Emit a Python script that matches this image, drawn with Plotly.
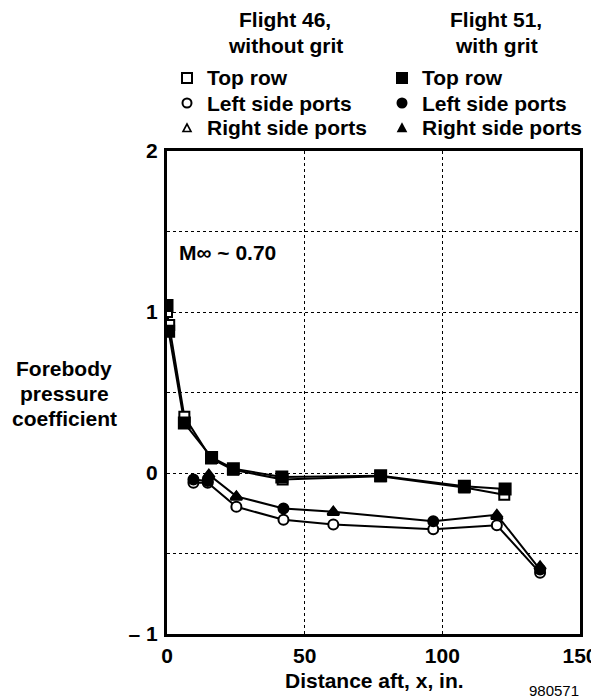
import plotly.graph_objects as go

# ---- data ----
f46_top_x = [0.0, 0.8, 6.3, 16.0, 24.0, 42.0, 77.5, 108.0, 122.5]
f46_top_y = [1.00, 0.92, 0.35, 0.09, 0.02, -0.04, -0.02, -0.09, -0.135]
f51_top_x = [0.0, 0.6, 6.3, 16.2, 24.1, 41.7, 77.6, 108.0, 122.8]
f51_top_y = [1.04, 0.88, 0.31, 0.097, 0.027, -0.025, -0.017, -0.083, -0.10]

f46_left_x = [9.6, 14.8, 25.2, 42.3, 60.4, 96.7, 119.8, 135.5]
f46_left_y = [-0.06, -0.06, -0.21, -0.29, -0.32, -0.35, -0.325, -0.62]
f46_right_x = [15.0, 25.2, 60.4, 119.8]
f46_right_y = [-0.02, -0.15, -0.245, -0.27]

f51_left_x = [9.6, 14.8, 42.3, 96.7, 135.5]
f51_left_y = [-0.04, -0.05, -0.22, -0.30, -0.60]
f51_right_x = [15.2, 25.2, 60.4, 119.8, 135.5]
f51_right_y = [-0.01, -0.145, -0.24, -0.26, -0.58]

x_ticks = [0, 50, 100, 150]
y_ticks = [-1, 0, 1, 2]
y_tick_text = ["\u2013 1", "0", "1", "2"]

legend_groups = [
    ("Flight 46,", "without grit", False),
    ("Flight 51,", "with grit", True),
]
legend_labels = ["Top row", "Left side ports", "Right side ports"]

FONT = "Liberation Sans, Arial, sans-serif"
BLACK = "black"
FS = 21

# ---- geometry (page has an 8px body margin) ----
W, H = 591, 690
ML, MR, MT, MB = 159, 19, 143, 64
OFF = 8
PW, PH = W - ML - MR, H - MT - MB


def px2x(p):
    return (p - OFF - ML) / PW


def px2y(p):
    return (OFF + MT + PH - p) / PH


fig = go.Figure()


def line_trace(xs, ys):
    return go.Scatter(x=xs, y=ys, mode="lines", line=dict(color=BLACK, width=2),
                      showlegend=False, hoverinfo="skip")


fig.add_trace(line_trace(f46_top_x, f46_top_y))
fig.add_trace(line_trace(f51_top_x, f51_top_y))
fig.add_trace(line_trace(f46_left_x, f46_left_y))
merged51 = sorted(zip(f51_left_x + f51_right_x, f51_left_y + f51_right_y))
fig.add_trace(line_trace([p[0] for p in merged51], [p[1] for p in merged51]))


def marker_trace(xs, ys, name, symbol, filled, size):
    return go.Scatter(
        x=xs, y=ys, mode="markers", name=name, showlegend=False,
        marker=dict(symbol=symbol, size=size,
                    color=BLACK if filled else "white",
                    line=dict(color=BLACK, width=2)),
    )


fig.add_trace(marker_trace(f46_top_x, f46_top_y, "Flight 46 top row", "square", False, 10))
fig.add_trace(marker_trace(f46_left_x, f46_left_y, "Flight 46 left side ports", "circle", False, 10))
fig.add_trace(marker_trace(f46_right_x, f46_right_y, "Flight 46 right side ports", "triangle-up", False, 10))
fig.add_trace(marker_trace(f51_top_x, f51_top_y, "Flight 51 top row", "square", True, 11))
fig.add_trace(marker_trace(f51_left_x, f51_left_y, "Flight 51 left side ports", "circle", True, 10))
fig.add_trace(marker_trace(f51_right_x, f51_right_y, "Flight 51 right side ports", "triangle-up", True, 10))

# ---- manual legend (headers, symbols, labels) ----
bold = dict(family=FONT, size=FS, color=BLACK, weight="bold")
annotations = []
shapes = []
header_cx = [285, 496]
sym_cx = [187, 402]
text_lx = [205, 420]
row_y = [78, 103, 128]

for gi, (h1, h2, filled) in enumerate(legend_groups):
    for txt, yy in ((h1, 20), (h2, 45)):
        annotations.append(dict(text=txt, xref="paper", yref="paper",
                                x=px2x(header_cx[gi]), y=px2y(yy), xanchor="center",
                                yanchor="middle", showarrow=False, font=bold))
    for ri, lab in enumerate(legend_labels):
        annotations.append(dict(text=lab, xref="paper", yref="paper",
                                x=px2x(text_lx[gi]), y=px2y(row_y[ri]), xanchor="left",
                                yanchor="middle", showarrow=False, font=bold))
    cx = sym_cx[gi]
    fill = BLACK if filled else "white"
    # square
    shapes.append(dict(type="rect", xref="paper", yref="paper", layer="above",
                       x0=px2x(cx - 5), x1=px2x(cx + 5), y0=px2y(row_y[0] + 5), y1=px2y(row_y[0] - 5),
                       line=dict(color=BLACK, width=2), fillcolor=fill))
    # circle
    shapes.append(dict(type="circle", xref="paper", yref="paper", layer="above",
                       x0=px2x(cx - 4.5), x1=px2x(cx + 4.5), y0=px2y(row_y[1] + 4.5), y1=px2y(row_y[1] - 4.5),
                       line=dict(color=BLACK, width=2), fillcolor=fill))
    # triangle
    ty = row_y[2]
    path = "M {} {} L {} {} L {} {} Z".format(
        px2x(cx), px2y(ty - 4), px2x(cx - 4), px2y(ty + 3.5), px2x(cx + 4), px2y(ty + 3.5))
    shapes.append(dict(type="path", xref="paper", yref="paper", layer="above", path=path,
                       line=dict(color=BLACK, width=1.6), fillcolor=fill))

# axis title, y title, Mach label, figure number
annotations.append(dict(text="Distance aft, x, in.", xref="paper", yref="paper",
                        x=px2x(374), y=px2y(680), xanchor="center", yanchor="middle",
                        showarrow=False, font=bold))
for txt, yy in (("Forebody", 368), ("pressure", 393), ("coefficient", 418)):
    annotations.append(dict(text=txt, xref="paper", yref="paper",
                            x=px2x(64), y=px2y(yy), xanchor="center", yanchor="middle",
                            showarrow=False, font=bold))
annotations.append(dict(text="M\u221e ~ 0.70", xref="paper", yref="paper",
                        x=px2x(177), y=px2y(252), xanchor="left", yanchor="middle",
                        showarrow=False, font=bold))
annotations.append(dict(text="980571", xref="paper", yref="paper",
                        x=px2x(581), y=px2y(690), xanchor="right", yanchor="middle",
                        showarrow=False, font=dict(family=FONT, size=15, color=BLACK)))

fig.update_layout(
    width=W, height=H,
    margin=dict(l=ML, r=MR, t=MT, b=MB, autoexpand=False),
    paper_bgcolor="white", plot_bgcolor="white",
    font=dict(family=FONT, color=BLACK),
    showlegend=False,
    xaxis=dict(
        range=[0, 150], tickvals=x_ticks, ticks="",
        showline=True, mirror=True, linecolor=BLACK, linewidth=3,
        showgrid=True, gridcolor=BLACK, gridwidth=1, griddash="dot",
        zeroline=False, ticklabelstandoff=1,
        tickfont=bold,
    ),
    yaxis=dict(
        range=[-1, 2], tickvals=y_ticks, ticktext=y_tick_text, ticks="",
        showline=True, mirror=True, linecolor=BLACK, linewidth=3,
        showgrid=True, gridcolor=BLACK, gridwidth=1, griddash="dot",
        zeroline=False, ticklabelstandoff=2,
        minor=dict(dtick=0.5, showgrid=True, gridcolor=BLACK, gridwidth=1, griddash="dot"),
        tickfont=bold,
    ),
    annotations=annotations,
    shapes=shapes,
)

fig.write_html("out.html")
